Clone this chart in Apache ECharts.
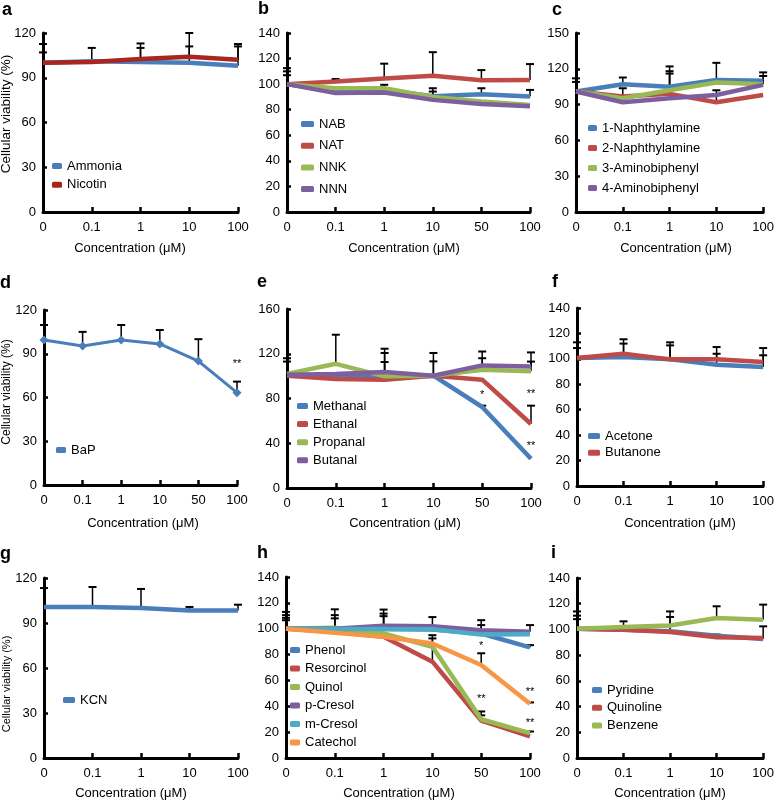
<!DOCTYPE html>
<html><head><meta charset="utf-8">
<script src="https://cdn.jsdelivr.net/npm/echarts@6/dist/echarts.min.js"></script>
<style>html,body{margin:0;padding:0;background:#fff}#c{width:777px;height:801px}</style>
</head><body><div id="c"></div>
<script>
// ---------- categories ----------
const cats5 = ['0', '0.1', '1', '10', '100'];
const cats6 = ['0', '0.1', '1', '10', '50', '100'];

// ---------- panel a ----------
const ammonia    = [100, 101, 100.5, 100, 98];
const ammoniaErr = [107, 110, 110, 111, 111];
const nicotin    = [100, 100.5, 102.5, 104, 102];
const nicotinErr = [112.6, null, 113, 120, 112.6];

// ---------- panel b ----------
const nab    = [100, 94, 95.5, 90.5, 92, 90.3];
const nabErr = [110, null, null, 96.8, 96.8, 95.5];
const nat    = [100, 102, 104.5, 106.5, 103, 103.3];
const natErr = [112.5, 104, 116, 125, 111, 115.7];
const nnk    = [100, 96.8, 96.8, 90, 86.5, 83.7];
const nnkErr = [107, null, 99.5, 94.2, null, null];
const nnn    = [100, 93, 93.5, 87.7, 84.5, 82.7];
const nnnErr = [null, null, null, null, null, null];

// ---------- panel c ----------
const naph1    = [101, 107, 105, 110.7, 110];
const naph1Err = [112, 112.7, 118, 125, 117];
const naph2    = [101, 96.7, 99, 92, 98];
const naph2Err = [109, 103.7, null, 102, null];
const amino3    = [101, 95.3, 102, 108.5, 107];
const amino3Err = [null, null, 122, null, 114];
const amino4    = [101, 92, 95.3, 98, 106.5];
const amino4Err = [null, null, 116, null, null];

// ---------- panel d ----------
const bap    = [99.4, 95.3, 99.4, 96.7, 85, 63.3];
const bapErr = [109.7, 105, 109.7, 106.3, 100, 70.9];
const starsD = [[5, 83, '**']];

// ---------- panel e ----------
const methanal    = [101, 99.5, 100, 100.4, 72.4, 26.2];
const methanalErr = [null, null, null, null, 73.6, null];
const ethanal     = [100.4, 97.4, 96.8, 100.4, 96.8, 57.2];
const ethanalErr  = [null, null, 120.7, null, null, 73.6];
const propanal    = [102, 111, 99.8, 100.4, 105.7, 104.3];
const propanalErr = [113, 137, 112.6, 113.2, 116, 113];
const butanal     = [101.3, 102, 103.7, 100.4, 109.6, 108.7];
const butanalErr  = [116, null, 124.5, 120.7, 122, 121.2];
const starsE = [[4, 83, '*'], [5, 84, '**'], [5, 38, '**']];

// ---------- panel f ----------
const acetone     = [100.7, 101.5, 99.6, 95.4, 93.6];
const acetoneErr  = [108.5, 112, 110.6, 104, 102.8];
const butanone    = [100.7, 104, 99.6, 99.6, 97.5];
const butanoneErr = [113, 115.4, 113, 109.3, 108.5];

// ---------- panel g ----------
const kcn    = [100.7, 100.7, 100, 98.4, 98.4];
const kcnErr = [113.3, 114, 112.7, 100.7, 102.2];

// ---------- panel h ----------
const phenol        = [100, 99.7, 99.7, 99.4, 96.3, 85.6];
const phenolErr     = [108.4, 108, 109.7, null, null, 87.3];
const resorcinol    = [100, 97.6, 93.8, 74.5, 29, 16.7];
const resorcinolErr = [106.6, null, null, 95, 33, null];
const quinol        = [100, 100.7, 96.3, 86, 30, 19.3];
const quinolErr     = [null, null, null, null, 36, 20.5];
const pCresol       = [100, 100, 102.2, 102, 98.9, 97.6];
const pCresolErr    = [113, 115, 114.8, 109, 106.6, 102.8];
const mCresol       = [100, 99.7, 99.7, 99.5, 95.6, 95.8];
const mCresolErr    = [110.5, 110.5, 111.7, null, 102.8, null];
const catechol      = [100, 96.8, 93.8, 88.6, 71.9, 41.9];
const catecholErr   = [null, null, null, 92.5, 81, 43];
const starsH = [[4, 87, '*'], [4, 46, '**'], [5, 51.4, '**'], [5, 27, '**']];

// ---------- panel i ----------
const pyridine     = [100.6, 99.8, 98.5, 95.1, 92.6];
const pyridineErr  = [110.7, null, 109.7, 96, 102.4];
const quinoline    = [100.6, 99.8, 98, 94, 93.3];
const quinolineErr = [108, null, null, null, null];
const benzene      = [100.6, 101.9, 103, 108.9, 107.6];
const benzeneErr   = [114, 106.3, 114, 118, 119.3];

// ---------- colours ----------
const BLUE = '#4a7ebb', RED = '#be4b48', DRED = '#a8261f', GREEN = '#98b954',
      PURPLE = '#7d5fa0', CYAN = '#4bacc6', ORANGE = '#f79646';

const panels = [
  {letter: 'a', cats: cats5, max: 120, step: 30, stars: [],
   series: [['Ammonia', ammonia, ammoniaErr, BLUE], ['Nicotin', nicotin, nicotinErr, DRED]]},
  {letter: 'b', cats: cats6, max: 140, step: 20, stars: [],
   series: [['NAB', nab, nabErr, BLUE], ['NAT', nat, natErr, RED], ['NNK', nnk, nnkErr, GREEN], ['NNN', nnn, nnnErr, PURPLE]]},
  {letter: 'c', cats: cats5, max: 150, step: 30, stars: [],
   series: [['1-Naphthylamine', naph1, naph1Err, BLUE], ['2-Naphthylamine', naph2, naph2Err, RED],
            ['3-Aminobiphenyl', amino3, amino3Err, GREEN], ['4-Aminobiphenyl', amino4, amino4Err, PURPLE]]},
  {letter: 'd', cats: cats6, max: 120, step: 30, stars: starsD, marker: true,
   series: [['BaP', bap, bapErr, BLUE]]},
  {letter: 'e', cats: cats6, max: 160, step: 40, stars: starsE,
   series: [['Methanal', methanal, methanalErr, BLUE], ['Ethanal', ethanal, ethanalErr, RED],
            ['Propanal', propanal, propanalErr, GREEN], ['Butanal', butanal, butanalErr, PURPLE]]},
  {letter: 'f', cats: cats5, max: 140, step: 20, stars: [],
   series: [['Acetone', acetone, acetoneErr, BLUE], ['Butanone', butanone, butanoneErr, RED]]},
  {letter: 'g', cats: cats5, max: 120, step: 30, stars: [],
   series: [['KCN', kcn, kcnErr, BLUE]]},
  {letter: 'h', cats: cats6, max: 140, step: 20, stars: starsH,
   series: [['Phenol', phenol, phenolErr, BLUE], ['Resorcinol', resorcinol, resorcinolErr, RED],
            ['Quinol', quinol, quinolErr, GREEN], ['p-Cresol', pCresol, pCresolErr, PURPLE],
            ['m-Cresol', mCresol, mCresolErr, CYAN], ['Catechol', catechol, catecholErr, ORANGE]]},
  {letter: 'i', cats: cats5, max: 140, step: 20, stars: [],
   series: [['Pyridine', pyridine, pyridineErr, BLUE], ['Quinoline', quinoline, quinolineErr, RED],
            ['Benzene', benzene, benzeneErr, GREEN]]}
];

// ---------- layout (positions / sizes only) ----------
const layout = [
  {grid: [43, 33, 195, 179],  leg: [52, 159, 10, 4.7],  letter: [2, 11],   xname: [130, 248], yname: [6, 114, 13.5]},
  {grid: [287, 33, 243, 179], leg: [301, 117, 13, 7.7], letter: [258, 10], xname: [404, 248]},
  {grid: [576, 33, 197, 179], leg: [588, 121, 9, 6],    letter: [552, 11], xname: [676, 248]},
  {grid: [44, 310, 193, 175], leg: [56, 443, 10, 4],    letter: [0, 284],  xname: [143, 523], yname: [7, 392, 12]},
  {grid: [287, 309, 244, 179],leg: [297, 399, 11, 4.1], letter: [257, 283],xname: [405, 523]},
  {grid: [577, 308, 196, 178],leg: [588, 429, 12, 2.7], letter: [552, 283],xname: [680, 523]},
  {grid: [44, 578, 194, 180], leg: [63, 693, 12, 4],    letter: [0, 555],  xname: [131, 793], yname: [7, 684, 11]},
  {grid: [286, 577, 244, 181],leg: [290, 643, 10, 4.5], letter: [257, 554],xname: [399, 793]},
  {grid: [577, 578, 195, 180],leg: [592, 683, 10, 3.8], letter: [551, 554],xname: [670, 793]}
];

const FONT = '"Liberation Sans", Arial, Helvetica, sans-serif';

const option = {
  animation: false,
  backgroundColor: '#fff',
  textStyle: {fontFamily: FONT, color: '#000'},
  grid: [], xAxis: [], yAxis: [], legend: [], series: [], graphic: []
};

panels.forEach((p, k) => {
  const L = layout[k];
  option.grid.push({left: L.grid[0], top: L.grid[1], width: L.grid[2], height: L.grid[3], containLabel: false});
  option.xAxis.push({
    type: 'category', gridIndex: k, data: p.cats, boundaryGap: false,
    axisLine: {lineStyle: {color: '#000', width: 3}},
    axisTick: {inside: true, length: 5, lineStyle: {color: '#000', width: 2.5}},
    axisLabel: {color: '#000', fontSize: 13, margin: 9, fontFamily: FONT},
    splitLine: {show: false}
  });
  option.yAxis.push({
    type: 'value', gridIndex: k, min: 0, max: p.max, interval: p.step,
    axisLine: {show: true, lineStyle: {color: '#000', width: 3}},
    axisTick: {show: true, inside: true, length: 4, lineStyle: {color: '#000', width: 2.5}},
    axisLabel: {color: '#000', fontSize: 13, margin: 7, fontFamily: FONT},
    splitLine: {show: false}
  });
  option.legend.push({
    orient: 'vertical', left: L.leg[0], top: L.leg[1], itemWidth: L.leg[2], itemHeight: 6,
    itemGap: L.leg[3], icon: 'roundRect', padding: 0,
    data: p.series.map(s => s[0]),
    textStyle: {fontSize: 13, lineHeight: 14, color: '#000', fontFamily: FONT}
  });
  // error bars
  const errData = [];
  p.series.forEach(s => {
    s[2].forEach((e, i) => { if (e != null) errData.push([i, s[1][i], e]); });
  });
  option.series.push({
    type: 'custom', xAxisIndex: k, yAxisIndex: k, z: 1, silent: true,
    data: errData,
    renderItem: (params, api) => {
      const x = api.value(0), lo = api.value(1), hi = api.value(2);
      const p0 = api.coord([x, lo]), p1 = api.coord([x, hi]);
      return {type: 'group', children: [
        {type: 'line', shape: {x1: p0[0], y1: p0[1], x2: p1[0], y2: p1[1]}, style: {stroke: '#000', lineWidth: 1.5}},
        {type: 'line', shape: {x1: p1[0] - 4, y1: p1[1], x2: p1[0] + 4, y2: p1[1]}, style: {stroke: '#000', lineWidth: 2}}
      ]};
    }
  });
  // lines
  p.series.forEach(s => {
    option.series.push({
      type: 'line', name: s[0], xAxisIndex: k, yAxisIndex: k, z: 2, data: s[1],
      color: s[3],
      symbol: p.marker ? 'diamond' : 'none', symbolSize: 9, showSymbol: !!p.marker,
      itemStyle: {color: s[3]},
      lineStyle: {width: p.marker ? 3 : 4.5, color: s[3]}
    });
  });
  // significance stars
  if (p.stars.length) {
    const st = p.stars;
    option.series.push({
      type: 'custom', xAxisIndex: k, yAxisIndex: k, z: 3, silent: true,
      data: st.map(s => [s[0], s[1]]),
      renderItem: (params, api) => {
        const c = api.coord([api.value(0), api.value(1)]);
        return {type: 'text', x: c[0], y: c[1], style: {text: st[params.dataIndex][2], fill: '#000',
          fontSize: 11, fontFamily: FONT, align: 'center', verticalAlign: 'middle'}};
      }
    });
  }
  // texts
  option.graphic.push({type: 'text', left: L.letter[0], top: L.letter[1] - 10,
    style: {text: p.letter, fontSize: 18, fontWeight: 'bold', fill: '#000', fontFamily: FONT}});
  option.graphic.push({type: 'text', x: L.xname[0], y: L.xname[1],
    style: {text: 'Concentration (μM)', fontSize: 13, fill: '#000', fontFamily: FONT, align: 'center', verticalAlign: 'middle'}});
  if (L.yname) {
    option.graphic.push({type: 'text', x: L.yname[0], y: L.yname[1], rotation: Math.PI / 2,
      style: {text: 'Cellular viability (%)', fontSize: L.yname[2], fill: '#000', fontFamily: FONT, align: 'center', verticalAlign: 'middle'}});
  }
});

const chart = echarts.init(document.getElementById('c'), null, {renderer: 'canvas'});
chart.setOption(option);
</script>
</body></html>
